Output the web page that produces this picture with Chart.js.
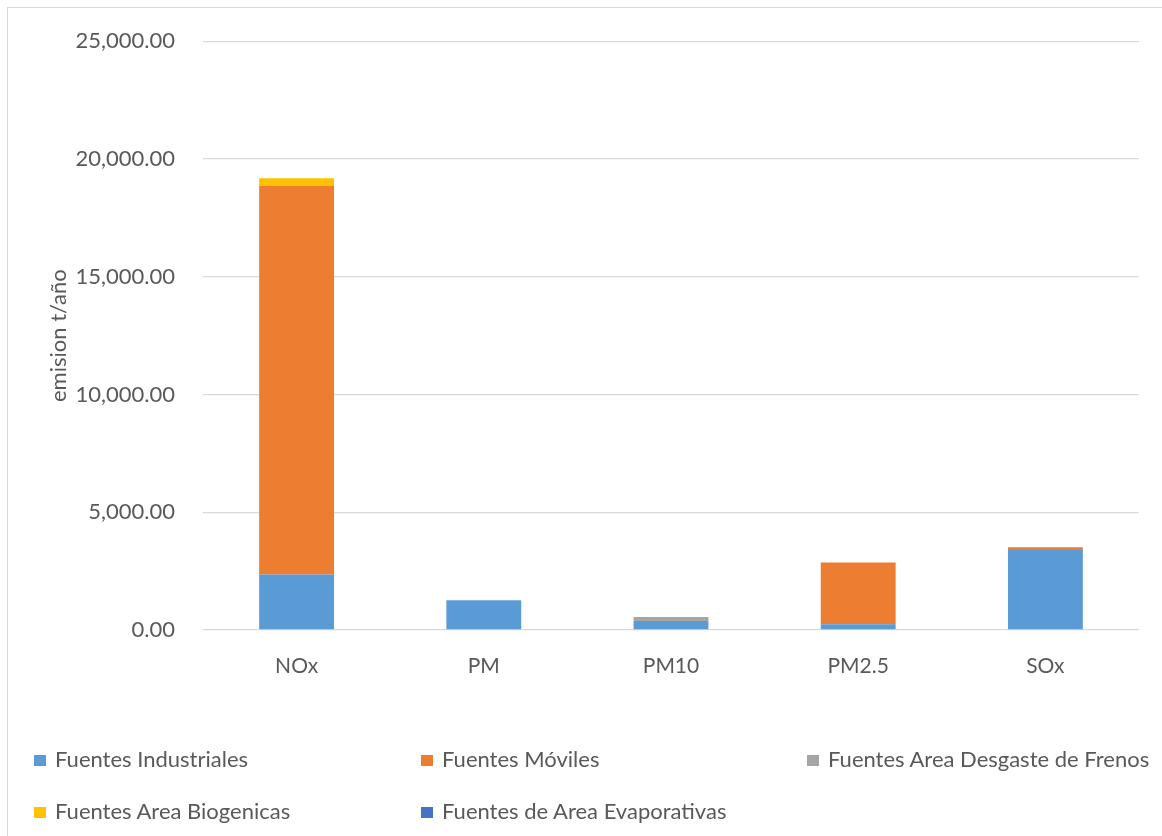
<!DOCTYPE html>
<html>
<head>
<meta charset="utf-8">
<script src="https://cdn.jsdelivr.net/npm/chart.js@4"></script>
<style>
  html, body { margin: 0; padding: 0; background: #fff; }
  #wrap { position: relative; width: 1162px; height: 836px; overflow: hidden; }
  #frame { position: absolute; left: 7px; top: 7px; width: 1200px; height: 900px;
           border-left: 1px solid #d9d9d9; border-top: 1px solid #d9d9d9; }
  #grafico { position: absolute; left: 0; top: 0; }
  .leg { position: absolute; font-family: Lato, "Open Sans", sans-serif; font-size: 22px;
         color: #595959; white-space: nowrap; line-height: 24px; }
  .leg span { display: inline-block; width: 12px; height: 11px; margin-right: 9px; vertical-align: 1px; }
</style>
</head>
<body>
<div id="wrap">
  <div id="frame"></div>
  <canvas id="grafico" width="1162" height="836"></canvas>
</div>
<script>
// datos (t/año)
const contaminantes = ['NOx', 'PM', 'PM10', 'PM2.5', 'SOx'];
const industriales = [2360, 1265, 380, 240, 3400];
const moviles = [16490, 0, 0, 2625, 110];
const desgasteFrenos = [0, 0, 170, 0, 0];
const biogenicas = [330, 0, 0, 0, 0];
const evaporativas = [0, 0, 0, 0, 0];

const series = [
    { label: 'Fuentes Industriales', data: industriales, color: '#5b9bd5' },
    { label: 'Fuentes Móviles', data: moviles, color: '#ed7d31' },
    { label: 'Fuentes Area Desgaste de Frenos', data: desgasteFrenos, color: '#a5a5a5' },
    { label: 'Fuentes Area Biogenicas', data: biogenicas, color: '#ffc000' },
    { label: 'Fuentes de Area Evaporativas', data: evaporativas, color: '#4472c4' }
];

const familia = 'Lato, "Open Sans", sans-serif';
Chart.defaults.color = '#595959';

const ctx = document.getElementById('grafico').getContext('2d');
new Chart(ctx, {
    type: 'bar',
    data: {
        labels: contaminantes,
        datasets: series.map(s => ({
            label: s.label,
            data: s.data,
            backgroundColor: s.color,
            borderWidth: 0,
            categoryPercentage: 1,
            barPercentage: 0.4
        }))
    },
    options: {
        responsive: false,
        animation: false,
        layout: { padding: { left: 44, top: 34, right: 23, bottom: 0 } },
        scales: {
            x: {
                stacked: true,
                grid: { display: false, drawTicks: false },
                border: { display: false },
                ticks: { font: { family: familia, size: 21 }, padding: 24, color: '#595959' },
                afterFit: (scale) => { scale.height = 206; }
            },
            y: {
                stacked: true,
                min: 0,
                max: 25000,
                grid: { color: '#d9d9d9', lineWidth: 1.3, drawTicks: false },
                border: { display: false },
                ticks: {
                    stepSize: 5000,
                    padding: 28,
                    font: { family: familia, size: 22 },
                    color: '#595959',
                    callback: (v) => v.toLocaleString('en-US', { minimumFractionDigits: 2, maximumFractionDigits: 2 })
                },
                title: { display: true, text: 'emision t/año', font: { family: familia, size: 22 }, color: '#595959', padding: { top: 2, bottom: 2 } },
                afterFit: (scale) => { scale.width = 159; }
            }
        },
        plugins: {
            legend: { display: false },
            tooltip: { enabled: false }
        }
    }
});

// leyenda en tres columnas como en el original
const wrap = document.getElementById('wrap');
const posX = [34, 421, 807];
const posY = [747, 799];
series.forEach((s, i) => {
    const d = document.createElement('div');
    d.className = 'leg';
    d.style.left = posX[i % 3] + 'px';
    d.style.top = posY[Math.floor(i / 3)] + 'px';
    d.innerHTML = `<span style="background:${s.color}"></span>${s.label}`;
    wrap.appendChild(d);
});
</script>
</body>
</html>
